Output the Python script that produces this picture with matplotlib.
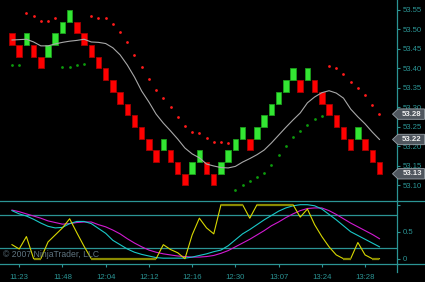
import matplotlib
matplotlib.use("Agg")
import matplotlib.pyplot as plt
import matplotlib.transforms as mtransforms
from matplotlib.patches import Polygon
from matplotlib.lines import Line2D

# renko boxes (box size 0.03): low of each box and its direction
box_low = [53.46, 53.43, 53.46, 53.43, 53.40, 53.43, 53.46, 53.49, 53.52, 53.49,
           53.46, 53.43, 53.40, 53.37, 53.34, 53.31, 53.28, 53.25, 53.22, 53.19,
           53.16, 53.19, 53.16, 53.13, 53.10, 53.13, 53.16, 53.13, 53.10, 53.13,
           53.16, 53.19, 53.22, 53.19, 53.22, 53.25, 53.28, 53.31, 53.34, 53.37,
           53.34, 53.37, 53.34, 53.31, 53.28, 53.25, 53.22, 53.19, 53.22, 53.19,
           53.16, 53.13]
box_dir = ["d", "d", "u", "d", "d", "u", "u", "u", "u", "d",
           "d", "d", "d", "d", "d", "d", "d", "d", "d", "d",
           "d", "u", "d", "d", "d", "u", "u", "d", "d", "u",
           "u", "u", "u", "d", "u", "u", "u", "u", "u", "u",
           "d", "u", "d", "d", "d", "d", "d", "d", "u", "d",
           "d", "d"]
box_size = 0.03

# trailing stop dots
stop_vals = [53.408, 53.408, 53.542, 53.535, 53.521, 53.521, 53.529, 53.403, 53.405, 53.408,
             53.412, 53.535, 53.530, 53.529, 53.514, 53.494, 53.467, 53.435, 53.403, 53.373,
             53.344, 53.324, 53.300, 53.276, 53.253, 53.238, 53.234, 53.223, 53.212, 53.212,
             53.209, 53.088, 53.100, 53.112, 53.121, 53.132, 53.152, 53.177, 53.201, 53.224,
             53.239, 53.256, 53.271, 53.278, 53.406, 53.401, 53.386, 53.366, 53.349, 53.333,
             53.307, 53.283]
stop_side = ["g", "g", "r", "r", "r", "r", "r", "g", "g", "g",
             "g", "r", "r", "r", "r", "r", "r", "r", "r", "r",
             "r", "r", "r", "r", "r", "r", "r", "r", "r", "r",
             "r", "g", "g", "g", "g", "g", "g", "g", "g", "g",
             "g", "g", "g", "g", "r", "r", "r", "r", "r", "r",
             "r", "r"]

# moving average
ma_vals = [53.473, 53.474, 53.475, 53.468, 53.458, 53.458, 53.463, 53.467, 53.470, 53.472,
           53.475, 53.468, 53.467, 53.464, 53.453, 53.435, 53.409, 53.378, 53.342, 53.314,
           53.283, 53.260, 53.240, 53.219, 53.196, 53.181, 53.171, 53.155, 53.150, 53.146,
           53.145, 53.149, 53.160, 53.169, 53.179, 53.191, 53.209, 53.229, 53.249, 53.268,
           53.286, 53.312, 53.327, 53.338, 53.343, 53.337, 53.324, 53.296, 53.276, 53.258,
           53.237, 53.218]

# lower panel oscillator
osc_cyan = [0.89, 0.83, 0.79, 0.73, 0.66, 0.60, 0.57, 0.58, 0.65, 0.69,
            0.69, 0.65, 0.56, 0.47, 0.34, 0.26, 0.18, 0.12, 0.08, 0.05,
            0.02, 0.01, 0.01, 0.01, 0.01, 0.03, 0.06, 0.09, 0.13, 0.16,
            0.24, 0.35, 0.46, 0.54, 0.63, 0.72, 0.80, 0.88, 0.94, 0.98,
            1.00, 1.00, 0.98, 0.92, 0.82, 0.72, 0.61, 0.50, 0.43, 0.36,
            0.29, 0.22]
osc_magenta = [0.90, 0.87, 0.83, 0.79, 0.75, 0.70, 0.67, 0.64, 0.65, 0.67,
               0.68, 0.68, 0.63, 0.59, 0.53, 0.46, 0.37, 0.29, 0.22, 0.16,
               0.12, 0.09, 0.07, 0.05, 0.04, 0.03, 0.03, 0.04, 0.06, 0.10,
               0.15, 0.22, 0.29, 0.36, 0.44, 0.52, 0.61, 0.68, 0.76, 0.83,
               0.89, 0.93, 0.94, 0.94, 0.89, 0.82, 0.74, 0.66, 0.59, 0.52,
               0.45, 0.37]
osc_yellow = [0.26, 0.18, 0.41, 0.0, 0.0, 0.31, 0.44, 0.57, 0.74, 0.48,
              0.23, 0.0, 0.0, 0.0, 0.0, 0.0, 0.0, 0.0, 0.0, 0.0,
              0.0, 0.26, 0.17, 0.11, 0.0, 0.44, 0.75, 0.57, 0.46, 1.0,
              1.0, 1.0, 1.0, 0.75, 1.0, 1.0, 1.0, 1.0, 1.0, 1.0,
              0.77, 0.92, 0.63, 0.41, 0.22, 0.07, 0.0, 0.0, 0.30, 0.07,
              0.0, 0.0]

time_ticks = [2, 8, 14, 20, 26, 32, 38, 44, 50]
time_labels = ["11:23", "11:48", "12:04", "12:12", "12:16", "12:30", "13:07", "13:24", "13:28"]
price_ticks = [53.10, 53.15, 53.20, 53.25, 53.30, 53.35, 53.40, 53.45, 53.50, 53.55]

TEAL = "#2b9494"
plt.rcParams["font.family"] = ["Liberation Sans", "DejaVu Sans"]

W, H = 425, 282
fig = plt.figure(figsize=(W / 100, H / 100), dpi=100, facecolor="black")
ax = fig.add_axes([0, 1 - 200.7 / H, 397 / W, 200.7 / H], facecolor="black")
ax2 = fig.add_axes([0, 1 - 264 / H, 397 / W, (264 - 200.7) / H], facecolor="black")

x = list(range(1, len(box_low) + 1))

# renko boxes
for xi, lo, d in zip(x, box_low, box_dir):
    fc = "#33e633" if d == "u" else "#ff0000"
    ec = "#1c9e1c" if d == "u" else "#a80000"
    ax.bar(xi, box_size, bottom=lo, width=0.76, color=fc, edgecolor=ec, linewidth=0.6, zorder=3)

ax.plot(x, ma_vals, color="#a8a8a8", lw=0.8, zorder=4)

for side, col in (("r", "#ff1a1a"), ("g", "#0c9a0c")):
    xs = [xi for xi, s in zip(x, stop_side) if s == side]
    ys = [v for v, s in zip(stop_vals, stop_side) if s == side]
    ax.plot(xs, ys, "o", color=col, ms=2.0, mew=0, zorder=5)

ax.set_xlim(-0.665, 54.43)
ax.set_ylim(53.061, 53.5756)
ax.set_xticks([])
ax.yaxis.tick_right()
ax.set_yticks(price_ticks)
ax.set_yticklabels([f"{p:.2f}" for p in price_ticks])
ax.tick_params(axis="y", colors=TEAL, labelcolor=TEAL, length=2.5, width=0.8,
               labelsize=5.6, pad=1.8)
for s in ("top", "left", "bottom"):
    ax.spines[s].set_visible(False)
ax.spines["right"].set_color(TEAL)
ax.spines["right"].set_linewidth(0.9)

# value tags on the right
trans = mtransforms.blended_transform_factory(ax.transAxes, ax.transData)
tags = [(stop_vals[-1], "#4f565e"), (ma_vals[-1], "#4f565e"), (box_low[-1], "#4f565e")]
hh = 5.2 / 390
x0, x1, x2 = 392.5 / 397, 398 / 397, 424.5 / 397
for val, fc in tags:
    poly = Polygon([(x0, val), (x1, val + hh), (x2, val + hh), (x2, val - hh), (x1, val - hh)],
                   closed=True, transform=trans, facecolor=fc, edgecolor="#9aa3aa",
                   linewidth=0.6, clip_on=False, zorder=10)
    ax.add_patch(poly)
    ax.text(412 / 397, val, f"{val:.2f}", transform=trans, ha="center", va="center",
            color="#f0f0f0", fontsize=5.6, fontweight="bold", clip_on=False, zorder=11)

# lower panel
ax2.axhline(0.8, color=TEAL, lw=0.9)
ax2.axhline(0.2, color=TEAL, lw=0.9)
ax2.plot(x, osc_magenta, color="#d21ad2", lw=0.8)
ax2.plot(x, osc_cyan, color="#1ac8c8", lw=0.8)
ax2.plot(x, osc_yellow, color="#d8d800", lw=0.8)
for i in range(len(osc_yellow) - 1):
    a, b = osc_yellow[i], osc_yellow[i + 1]
    if a == b and a in (0.0, 1.0):
        ax2.plot([x[i], x[i + 1]], [a, b], color="#8a8a00", lw=1.6, solid_capstyle="butt")

ax2.text(-0.25, 0.087, "\u00a9 2007 NinjaTrader, LLC", color="#5f7480", fontsize=6.2,
         ha="left", va="center")

ax2.set_xlim(-0.665, 54.43)
ax2.set_ylim(-0.098, 1.074)
ax2.yaxis.tick_right()
ax2.set_yticks([0, 0.5, 1])
ax2.set_yticklabels(["0", "0.5", ""])
ax2.set_xticks(time_ticks)
ax2.set_xticklabels(time_labels)
ax2.tick_params(axis="both", colors=TEAL, labelcolor=TEAL, length=2.5, width=0.8,
                labelsize=5.6, pad=1.8)
ax2.tick_params(axis="x", pad=4.5)
ax2.spines["left"].set_visible(False)
for s in ("top", "bottom", "right"):
    ax2.spines[s].set_color(TEAL)
    ax2.spines[s].set_linewidth(0.9)

fig.add_artist(Line2D([397 / W, 397 / W], [1 - 272 / H, 1 - 264 / H], color=TEAL, lw=0.9))
fig.add_artist(Line2D([397 / W, 1], [1 - 200.7 / H, 1 - 200.7 / H], color=TEAL, lw=0.9))
fig.add_artist(Line2D([397 / W, 1], [1 - 264 / H, 1 - 264 / H], color=TEAL, lw=0.9))

fig.savefig("out.png", dpi=100, facecolor="black")
